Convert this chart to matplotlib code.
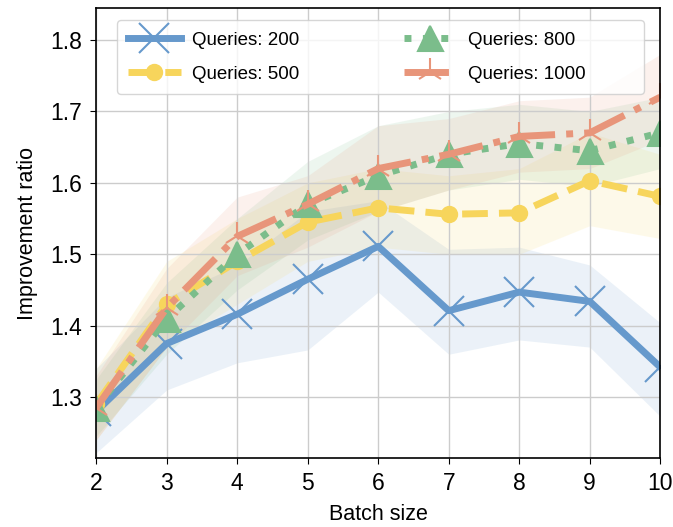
import matplotlib
matplotlib.use('Agg')
import matplotlib.pyplot as plt
import numpy as np

plt.rcParams['font.family'] = ['Liberation Sans', 'DejaVu Sans']

# batch sizes
batch = [2, 3, 4, 5, 6, 7, 8, 9, 10]

# mean improvement ratio per query budget
q200 = [1.280, 1.375, 1.416, 1.465, 1.511, 1.421, 1.447, 1.434, 1.342]
q500 = [1.290, 1.430, 1.490, 1.545, 1.565, 1.556, 1.558, 1.603, 1.581]
q800 = [1.285, 1.410, 1.500, 1.570, 1.610, 1.640, 1.655, 1.645, 1.670]
q1000 = [1.285, 1.425, 1.525, 1.570, 1.620, 1.640, 1.665, 1.670, 1.720]

# shaded band limits
q200_lo = [1.222, 1.310, 1.348, 1.366, 1.447, 1.360, 1.380, 1.370, 1.273]
q200_hi = [1.340, 1.440, 1.484, 1.560, 1.575, 1.507, 1.510, 1.485, 1.404]
q500_lo = [1.240, 1.370, 1.430, 1.490, 1.510, 1.500, 1.500, 1.540, 1.522]
q500_hi = [1.340, 1.490, 1.550, 1.600, 1.620, 1.610, 1.620, 1.670, 1.640]
q800_lo = [1.245, 1.360, 1.450, 1.520, 1.560, 1.590, 1.605, 1.595, 1.620]
q800_hi = [1.325, 1.460, 1.550, 1.630, 1.680, 1.700, 1.710, 1.700, 1.720]
q1000_lo = [1.240, 1.370, 1.470, 1.510, 1.560, 1.590, 1.615, 1.620, 1.660]
q1000_hi = [1.330, 1.480, 1.580, 1.610, 1.680, 1.690, 1.715, 1.720, 1.780]

series = [
    ('Queries: 200', q200, q200_lo, q200_hi, '#6699cc', '-', 'x', 22),
    ('Queries: 500', q500, q500_lo, q500_hi, '#f7d55c', '--', 'o', 11),
    ('Queries: 800', q800, q800_lo, q800_hi, '#7bbd8b', ':', '^', 18),
    ('Queries: 1000', q1000, q1000_lo, q1000_hi, '#e8957a', '-.', '2', 20),
]

fig, ax = plt.subplots(figsize=(6.73, 5.27), dpi=100)

for label, y, lo, hi, col, ls, mk, ms in series:
    ax.fill_between(batch, lo, hi, color=col, alpha=0.13, linewidth=0)
    ax.plot(batch, y, color=col, linestyle=ls, linewidth=5, marker=mk,
            markersize=ms, markeredgewidth=1.5, label=label)

ax.set_xlim(2, 10)
ax.set_ylim(1.214, 1.845)
ax.set_yticks([1.3, 1.4, 1.5, 1.6, 1.7, 1.8])
ax.set_xticks(batch)
ax.tick_params(axis='both', labelsize=16.5, direction='out', length=4, pad=6)
ax.grid(color='#cccccc', linewidth=1)
ax.set_xlabel('Batch size', fontsize=15.5, labelpad=6)
ax.set_ylabel('Improvement ratio', fontsize=15.5, labelpad=9)
for s in ax.spines.values():
    s.set_linewidth(1.2)

leg = ax.legend(loc='upper left', ncol=2, fontsize=13.5, handlelength=2.8,
                columnspacing=5.6, borderpad=0.6, labelspacing=0.9,
                handletextpad=0.6, bbox_to_anchor=(0.02, 0.993))

# the frame in the original reaches further right than the entries
set_bounds = leg.legendPatch.set_bounds


def wide_bounds(*args):
    x, y, w, h = args[0] if len(args) == 1 else args
    set_bounds(x, y, w + 47, h)


leg.legendPatch.set_bounds = wide_bounds

plt.subplots_adjust(left=0.143, right=0.981, top=0.985, bottom=0.13)
fig.savefig('out.png')
